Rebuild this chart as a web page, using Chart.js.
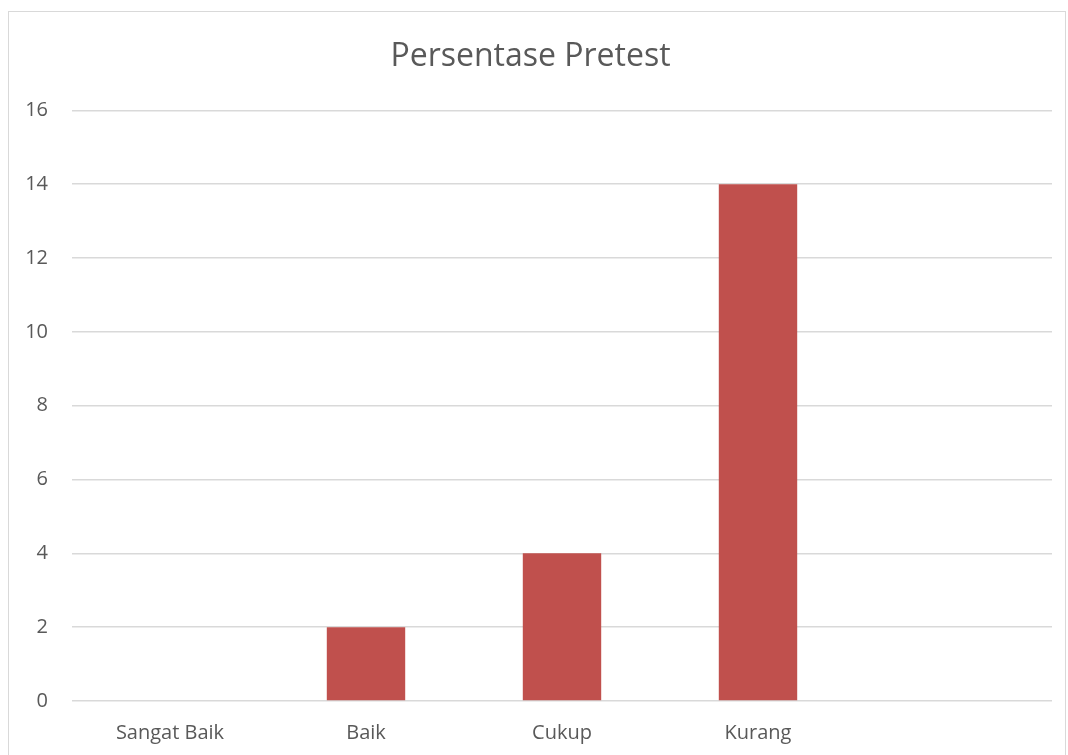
<!DOCTYPE html>
<html>
<head>
<meta charset="utf-8">
<script src="https://cdn.jsdelivr.net/npm/chart.js@4"></script>
<style>
  body { margin:0; background:#fff; overflow:hidden; }
  #box { position:absolute; left:8px; top:11px; width:1056px; height:760px; border:1px solid #d9d9d9; }
  #chart { display:block; }
</style>
</head>
<body>
<div id="box"><canvas id="chart" width="1056" height="743"></canvas></div>
<script>
// data
const categorias = ['Sangat Baik', 'Baik', 'Cukup', 'Kurang', ''];
const valores = [0, 2, 4, 14, null];
const titulo = 'Persentase Pretest';
const yMax = 16;
const yPaso = 2;

const ctx = document.getElementById('chart');
Chart.defaults.font.family = '"Open Sans", Lato, sans-serif';
Chart.defaults.color = '#595959';

new Chart(ctx, {
  type: 'bar',
  data: {
    labels: categorias,
    datasets: [{
      label: titulo,
      data: valores,
      backgroundColor: '#c0504d',
      borderWidth: 0,
      categoryPercentage: 0.4,
      barPercentage: 1
    }]
  },
  options: {
    responsive: false,
    animation: false,
    layout: { padding: { top: 26, right: 13, left: 0, bottom: 0 } },
    plugins: {
      legend: { display: false },
      tooltip: { enabled: false },
      title: {
        display: true,
        text: titulo,
        color: '#595959',
        font: { size: 32, weight: 'normal' },
        padding: { top: 0, bottom: 34 }
      }
    },
    scales: {
      y: {
        min: 0,
        max: yMax,
        ticks: { stepSize: yPaso, padding: 24, font: { size: 20 } },
        grid: { color: '#d9d9d9', lineWidth: 1.5, drawTicks: false },
        border: { display: false },
        afterFit: (s) => { s.width = 63; }
      },
      x: {
        ticks: { padding: 12, font: { size: 20 } },
        grid: { display: false },
        border: { display: false },
        afterFit: (s) => { s.height = 54; }
      }
    }
  }
});
</script>
</body>
</html>
